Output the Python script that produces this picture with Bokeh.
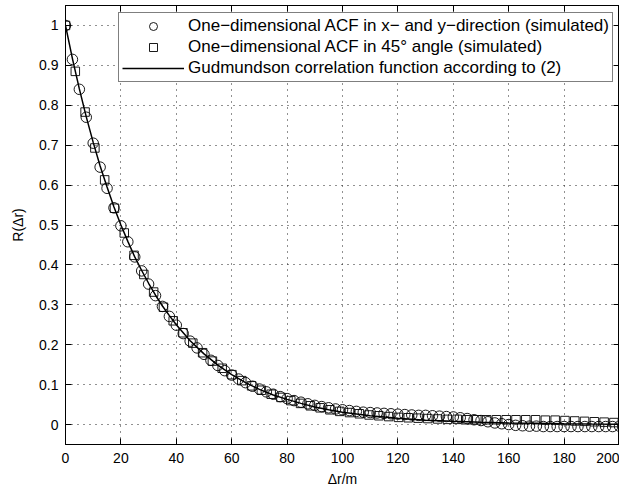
from bokeh.plotting import figure
from bokeh.models import Range1d, LinearAxis, Legend, LegendItem, CustomJSTickFormatter
from bokeh.embed import file_html
from bokeh.resources import INLINE

# ---- data ----
circ_x = [0, 2.5, 5, 7.5, 10, 12.5, 15, 17.5, 20, 22.5, 25, 27.5, 30, 32.5, 35, 37.5,
          40, 42.5, 45, 47.5, 50, 52.5, 55, 57.5, 60, 62.5, 65, 67.5, 70, 72.5, 75, 77.5,
          80, 82.5, 85, 87.5, 90, 92.5, 95, 97.5, 100, 102.5, 105, 107.5, 110, 112.5, 115, 117.5,
          120, 122.5, 125, 127.5, 130, 132.5, 135, 137.5, 140, 142.5, 145, 147.5, 150, 152.5, 155, 157.5,
          160, 162.5, 165, 167.5, 170, 172.5, 175, 177.5, 180, 182.5, 185, 187.5, 190, 192.5, 195, 197.5, 200]
circ_y = [1.000, 0.915, 0.840, 0.770, 0.705, 0.645, 0.592, 0.543, 0.498, 0.458, 0.420, 0.385, 0.352, 0.323, 0.296, 0.271,
          0.249, 0.228, 0.209, 0.192, 0.176, 0.161, 0.148, 0.135, 0.124, 0.114, 0.105, 0.096, 0.089, 0.082, 0.076, 0.070,
          0.065, 0.060, 0.056, 0.052, 0.048, 0.045, 0.042, 0.039, 0.037, 0.035, 0.033, 0.031, 0.030, 0.029, 0.028, 0.027,
          0.026, 0.025, 0.024, 0.023, 0.023, 0.022, 0.021, 0.020, 0.019, 0.017, 0.015, 0.012, 0.010, 0.007, 0.004, 0.002,
          0.000, -0.002, -0.003, -0.004, -0.004, -0.005, -0.005, -0.005, -0.005, -0.005, -0.005, -0.005, -0.005, -0.005, -0.005, -0.005, -0.004]

sq_x = [0.00, 3.54, 7.07, 10.61, 14.14, 17.68, 21.21, 24.75, 28.28, 31.82, 35.36, 38.89, 42.43, 45.96, 49.50,
        53.03, 56.57, 60.10, 63.64, 67.18, 70.71, 74.25, 77.78, 81.32, 84.85, 88.39, 91.92, 95.46, 98.99,
        102.53, 106.07, 109.60, 113.14, 116.67, 120.21, 123.74, 127.28, 130.82, 134.35, 137.89, 141.42,
        144.96, 148.49, 152.03, 155.56, 159.10, 162.63, 166.17, 169.71, 173.24, 176.78, 180.31, 183.85,
        187.38, 190.92, 194.45, 197.99]
sq_y = [1.000, 0.885, 0.783, 0.693, 0.613, 0.542, 0.480, 0.424, 0.376, 0.332, 0.294, 0.260, 0.230, 0.204, 0.180,
        0.159, 0.141, 0.125, 0.110, 0.097, 0.086, 0.076, 0.068, 0.060, 0.053, 0.047, 0.042, 0.037, 0.033,
        0.030, 0.027, 0.024, 0.022, 0.020, 0.018, 0.017, 0.016, 0.015, 0.014, 0.013, 0.013,
        0.012, 0.012, 0.012, 0.012, 0.012, 0.012, 0.012, 0.012, 0.011, 0.011, 0.010, 0.009,
        0.008, 0.007, 0.006, 0.005]

gud_x = [0, 2.5, 5, 7.5, 10, 12.5, 15, 17.5, 20, 22.5, 25, 27.5, 30, 32.5, 35, 37.5, 40,
         45, 50, 55, 60, 65, 70, 75, 80, 85, 90, 95, 100,
         110, 120, 130, 140, 150, 160, 170, 180, 190, 200]
gud_y = [1.000, 0.917, 0.841, 0.771, 0.707, 0.648, 0.595, 0.545, 0.500, 0.459, 0.420, 0.386, 0.354, 0.324, 0.297, 0.273, 0.250,
         0.210, 0.177, 0.149, 0.125, 0.105, 0.088, 0.074, 0.063, 0.053, 0.044, 0.037, 0.031,
         0.022, 0.016, 0.011, 0.008, 0.0055, 0.004, 0.003, 0.002, 0.0014, 0.001]

x_ticks = [0, 20, 40, 60, 80, 100, 120, 140, 160, 180, 200]
y_ticks = [0, 0.1, 0.2, 0.3, 0.4, 0.5, 0.6, 0.7, 0.8, 0.9, 1]

legend_labels = ["One\u2212dimensional ACF in x\u2212 and y\u2212direction (simulated)",
                 "One\u2212dimensional ACF in 45\u00b0 angle (simulated)",
                 "Gudmundson correlation function according to (2)"]

FONT = "Liberation Sans"

p = figure(frame_width=554, frame_height=439, output_backend="svg", toolbar_location=None,
           x_range=Range1d(0, 200), y_range=Range1d(-0.05, 1.05),
           min_border_left=65, min_border_top=5, min_border_right=0, min_border_bottom=0,
           background_fill_color="white", border_fill_color="white")

p.outline_line_color = "black"
p.outline_line_width = 1

for ax in (p.xaxis[0], p.yaxis[0]):
    ax.major_tick_in = 6
    ax.major_tick_out = 0
    ax.minor_tick_line_color = None
    ax.axis_line_color = "black"
    ax.major_tick_line_color = "black"
    ax.major_label_text_font = FONT
    ax.major_label_text_font_size = "14px"
    ax.major_label_text_color = "black"
    ax.axis_label_text_font = FONT
    ax.axis_label_text_font_size = "14px"
    ax.axis_label_text_font_style = "normal"
    ax.axis_label_text_color = "black"

p.xaxis[0].ticker = x_ticks
p.yaxis[0].ticker = y_ticks
p.xaxis[0].axis_label = "\u0394r/m"
p.yaxis[0].axis_label = "R(\u0394r)"
p.xaxis[0].major_label_standoff = 8
p.yaxis[0].major_label_standoff = 7
p.xaxis[0].axis_label_standoff = 5
p.yaxis[0].axis_label_standoff = 10

blank = CustomJSTickFormatter(code="return ''")
top_ax = LinearAxis(ticker=x_ticks, formatter=blank)
right_ax = LinearAxis(ticker=y_ticks, formatter=blank)
for ax in (top_ax, right_ax):
    ax.major_tick_in = 6
    ax.major_tick_out = 0
    ax.minor_tick_line_color = None
    ax.major_label_text_font_size = "1px"
    ax.major_label_standoff = 0
    ax.axis_line_color = "black"
    ax.major_tick_line_color = "black"
p.add_layout(top_ax, "above")
p.add_layout(right_ax, "right")

p.xgrid.ticker = x_ticks
p.ygrid.ticker = y_ticks
for g in (p.xgrid, p.ygrid):
    g.grid_line_color = "#222222"
    g.grid_line_dash = "1 5"
    g.grid_line_width = 1

r_c = p.scatter(circ_x, circ_y, marker="circle", size=10.5, fill_color=None,
                line_color="black", line_width=0.9)
r_s = p.scatter(sq_x, sq_y, marker="square", size=8.5, fill_color=None,
                line_color="black", line_width=0.9)
r_l = p.line(gud_x, gud_y, line_color="black", line_width=1.5)

legend = Legend(items=[LegendItem(label=legend_labels[0], renderers=[r_c]),
                       LegendItem(label=legend_labels[1], renderers=[r_s]),
                       LegendItem(label=legend_labels[2], renderers=[r_l])],
                location=(53, 362))
legend.label_text_font = FONT
legend.label_text_font_size = "17px"
legend.label_text_color = "black"
legend.glyph_width = 62
legend.glyph_height = 20
legend.label_height = 20
legend.label_standoff = 4
legend.spacing = 1
legend.padding = 3
legend.margin = 0
legend.border_line_color = "black"
legend.border_line_width = 1
legend.background_fill_color = "white"
legend.background_fill_alpha = 1
p.add_layout(legend, "center")

open("out.html", "w").write(file_html(p, INLINE))
